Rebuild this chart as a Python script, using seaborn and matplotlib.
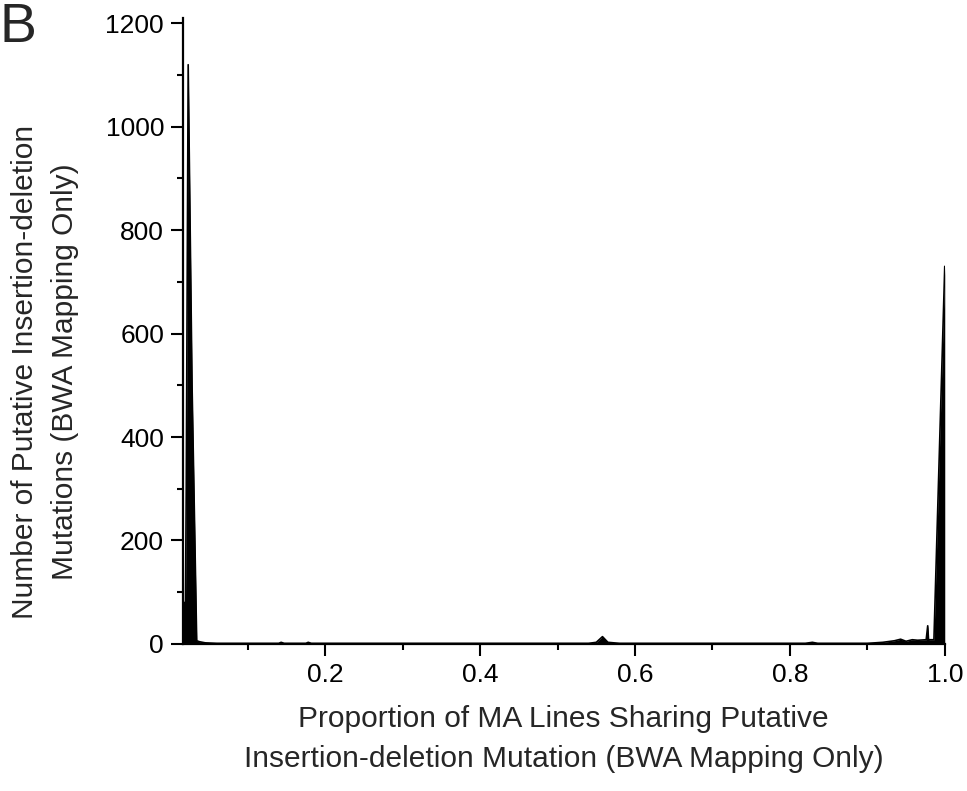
import matplotlib
matplotlib.use("Agg")
import matplotlib.pyplot as plt
import seaborn as sns
import pandas as pd
from matplotlib.ticker import MultipleLocator

# proportion of MA lines sharing the indel, and the number of indels at that proportion
proportion = [0.016, 0.0195, 0.0205, 0.023, 0.028, 0.034, 0.038, 0.045, 0.06, 0.10,
              0.14, 0.143, 0.147, 0.175, 0.178, 0.182, 0.25, 0.35, 0.45, 0.54,
              0.55, 0.558, 0.565, 0.58, 0.65, 0.75, 0.82, 0.829, 0.836, 0.90,
              0.92, 0.935, 0.943, 0.95, 0.958, 0.965, 0.976, 0.978, 0.979, 0.980,
              0.986, 1.0]
n_indels = [80, 80, 300, 1120, 500, 6, 4, 2, 1, 1,
            1, 3, 1, 1, 3, 1, 1, 1, 1, 1,
            3, 14, 3, 1, 1, 1, 1, 3, 1, 1,
            3, 6, 9, 5, 8, 7, 8, 35, 9, 8,
            8, 730]

y_ticks = [0, 200, 400, 600, 800, 1000, 1200]
x_ticks = [0.2, 0.4, 0.6, 0.8, 1.0]

df = pd.DataFrame({"proportion": proportion, "n": n_indels})

sns.set_style("ticks")
plt.rcParams["font.family"] = ["Liberation Sans", "DejaVu Sans"]

fig = plt.figure(figsize=(9.67, 7.91), dpi=100)
ax = fig.add_axes([0.189, 0.186, 0.788, 0.791])

sns.lineplot(data=df, x="proportion", y="n", color="black", linewidth=1.2, ax=ax)
ax.fill_between(df["proportion"], df["n"], 0, color="black", linewidth=0)

ax.set_xlim(0.016, 1.0)
ax.set_ylim(0, 1210)
ax.set_xticks(x_ticks)
ax.set_xticklabels(["0.2", "0.4", "0.6", "0.8", "1.0"])
ax.set_yticks(y_ticks)
ax.xaxis.set_minor_locator(MultipleLocator(0.1))
ax.yaxis.set_minor_locator(MultipleLocator(100))

sns.despine(ax=ax)
for s in ["left", "bottom"]:
    ax.spines[s].set_linewidth(1.6)
    ax.spines[s].set_color("black")

ax.tick_params(which="major", direction="out", length=8.5, width=1.5, labelsize=19,
               colors="black", pad=5)
ax.tick_params(which="minor", direction="out", length=4.5, width=1.5, colors="black")

ax.set_xlabel("Proportion of MA Lines Sharing Putative\n"
              "Insertion-deletion Mutation (BWA Mapping Only)",
              fontsize=21.5, labelpad=13, linespacing=1.55)
ax.set_ylabel("Number of Putative Insertion-deletion\n"
              "Mutations (BWA Mapping Only)",
              fontsize=21.5, labelpad=19, linespacing=1.55)
# label sits a bit below the axis centre in the original
ax.yaxis.label.set_y(0.435)

fig.text(0.0, 0.997, "B", fontsize=40, ha="left", va="top")

fig.savefig("out.png", dpi=100)
